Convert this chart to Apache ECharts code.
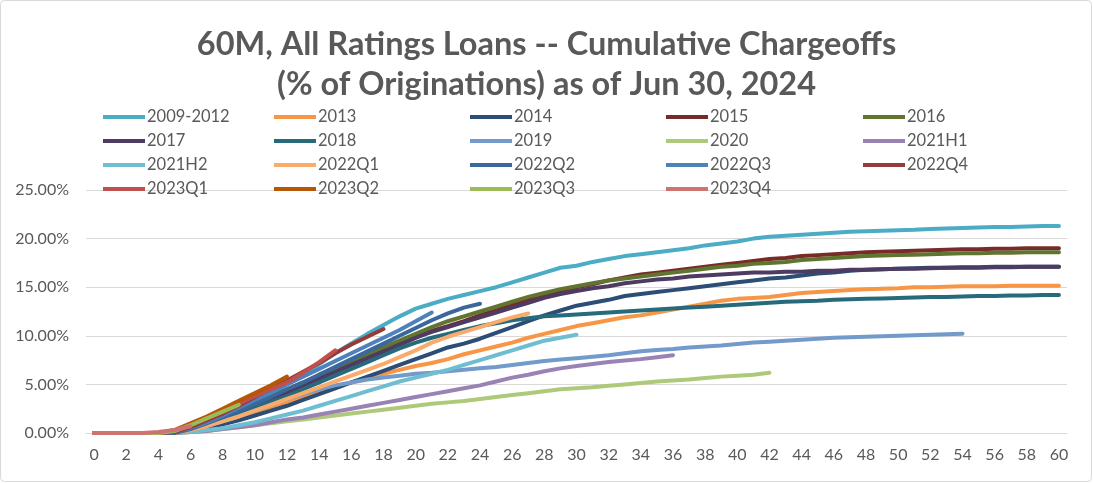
<!DOCTYPE html>
<html>
<head>
<meta charset="utf-8">
<script src="https://cdn.jsdelivr.net/npm/echarts@6/dist/echarts.min.js"></script>
<style>
html,body{margin:0;padding:0;background:#fff;}
#chart{width:1093px;height:483px;}
</style>
</head>
<body>
<div id="chart"></div>
<script>
// ---- data ----
const months = [0,1,2,3,4,5,6,7,8,9,10,11,12,13,14,15,16,17,18,19,20,21,22,23,24,25,26,27,28,29,30,31,32,33,34,35,36,37,38,39,40,41,42,43,44,45,46,47,48,49,50,51,52,53,54,55,56,57,58,59,60];
const yTicks = [0, 5, 10, 15, 20, 25];
const titleText = "60M, All Ratings Loans -- Cumulative Chargeoffs\n(% of Originations) as of Jun 30, 2024";

const seriesNames = ["2009-2012","2013","2014","2015","2016","2017","2018","2019","2020","2021H1","2021H2","2022Q1","2022Q2","2022Q3","2022Q4","2023Q1","2023Q2","2023Q3","2023Q4"];
const seriesColors = ["#4BACC6","#F79646","#2C4D75","#772C2A","#5F7530","#4D3B62","#276A7C","#729ACA","#AFC97A","#9983B5","#6FBDD1","#F9AB6B","#3A679C","#4F81BD","#953B39","#C0504D","#B65708","#9BBB59","#CD7371"];

const v2009_2012 = [0,0,0,0,0, 0.2,0.6,1.1,1.7,2.4, 3.1,4.0,5.0,6.0,7.1, 8.2,9.2,10.2,11.1,12.0, 12.8,13.3,13.8,14.2,14.6, 15.0,15.5,16.0,16.5,17.0, 17.2,17.6,17.9,18.2,18.4, 18.6,18.8,19.0,19.3,19.5, 19.7,20.0,20.2,20.3,20.4, 20.5,20.6,20.7,20.75,20.8, 20.85,20.9,21.0,21.05,21.1, 21.15,21.2,21.2,21.25,21.3, 21.3];
const v2013 = [0,0,0,0,0, 0,0.3,0.7,1.2,1.7, 2.2,2.7,3.2,3.7,4.2, 4.7,5.2,5.7,6.1,6.5, 6.9,7.2,7.6,8.1,8.5, 8.9,9.3,9.8,10.2,10.6, 11.0,11.3,11.6,11.9,12.1, 12.4,12.7,13.0,13.3,13.6, 13.8,13.9,14.0,14.2,14.4, 14.5,14.6,14.7,14.8,14.85, 14.9,15.0,15.0,15.05,15.1, 15.1,15.1,15.15,15.15,15.15, 15.15];
const v2014 = [0,0,0,0,0, 0,0.2,0.5,0.9,1.3, 1.8,2.3,2.8,3.4,4.0, 4.6,5.2,5.8,6.4,7.0, 7.6,8.2,8.8,9.2,9.7, 10.3,10.9,11.5,12.1,12.6, 13.1,13.4,13.7,14.1,14.3, 14.5,14.7,14.9,15.1,15.3, 15.5,15.7,15.9,16.0,16.2, 16.4,16.5,16.7,16.8,16.85, 16.9,16.95,17.0,17.0,17.05, 17.05,17.1,17.1,17.1,17.1, 17.1];
const v2015 = [0,0,0,0,0, 0.1,0.4,0.9,1.5,2.1, 2.8,3.5,4.2,4.9,5.6, 6.3,7.0,7.7,8.4,9.1, 9.8,10.5,11.0,11.5,12.1, 12.6,13.2,13.7,14.2,14.6, 15.0,15.3,15.7,16.0,16.3, 16.5,16.7,16.9,17.1,17.3, 17.5,17.7,17.9,18.0,18.2, 18.3,18.4,18.5,18.6,18.65, 18.7,18.75,18.8,18.85,18.9, 18.9,18.95,18.95,19.0,19.0, 19.0];
const v2016 = [0,0,0,0,0, 0.1,0.5,1.0,1.6,2.3, 3.0,3.7,4.5,5.2,6.0, 6.7,7.4,8.1,8.8,9.5, 10.2,10.9,11.5,12.0,12.5, 13.0,13.5,14.0,14.4,14.8, 15.1,15.4,15.7,15.9,16.1, 16.3,16.5,16.7,16.9,17.1, 17.2,17.4,17.5,17.6,17.8, 17.9,18.0,18.1,18.2,18.25, 18.3,18.35,18.4,18.45,18.5, 18.5,18.55,18.55,18.6,18.6, 18.6];
const v2017 = [0,0,0,0,0, 0.1,0.4,0.9,1.5,2.1, 2.8,3.5,4.2,4.9,5.6, 6.3,7.0,7.7,8.4,9.1, 9.8,10.4,10.9,11.4,11.9, 12.4,12.9,13.4,13.9,14.3, 14.6,14.9,15.1,15.4,15.6, 15.8,15.9,16.1,16.2,16.3, 16.4,16.5,16.5,16.6,16.6, 16.7,16.7,16.8,16.8,16.85, 16.9,16.9,16.95,17.0,17.0, 17.0,17.05,17.05,17.1,17.1, 17.1];
const v2018 = [0,0,0,0,0, 0.1,0.4,0.9,1.4,2.0, 2.6,3.2,3.8,4.5,5.2, 5.9,6.6,7.3,8.0,8.7, 9.3,9.8,10.2,10.6,11.0, 11.3,11.6,11.8,12.0,12.1, 12.2,12.3,12.4,12.5,12.6, 12.7,12.8,12.9,13.0,13.1, 13.2,13.3,13.4,13.5,13.55, 13.6,13.7,13.75,13.8,13.85, 13.9,13.95,14.0,14.0,14.05, 14.1,14.1,14.15,14.15,14.2, 14.2];
const v2019 = [0,0,0,0,0, 0,0.3,0.7,1.2,1.7, 2.3,2.9,3.5,4.0,4.5, 4.9,5.2,5.5,5.7,5.9, 6.1,6.2,6.35,6.5,6.65, 6.8,7.0,7.2,7.4,7.55, 7.7,7.85,8.0,8.2,8.4, 8.55,8.65,8.8,8.9,9.0, 9.15,9.3,9.4,9.5,9.6, 9.7,9.8,9.85,9.9,9.95, 10.0,10.05,10.1,10.15,10.2];
const v2020 = [0,0,0,0,0, 0,0.1,0.2,0.4,0.6, 0.8,1.0,1.2,1.4,1.6, 1.8,2.0,2.2,2.4,2.6, 2.8,3.0,3.15,3.3,3.5, 3.7,3.9,4.1,4.3,4.5, 4.6,4.7,4.85,5.0,5.15, 5.3,5.4,5.5,5.65,5.8, 5.9,6.0,6.2];
const v2021H1 = [0,0,0,0,0, 0,0.1,0.2,0.4,0.6, 0.8,1.1,1.4,1.6,1.9, 2.2,2.5,2.8,3.1,3.4, 3.7,4.0,4.3,4.6,4.9, 5.3,5.7,6.0,6.35,6.65, 6.9,7.1,7.3,7.45,7.6, 7.8,8.0];
const v2021H2 = [0,0,0,0,0, 0,0.1,0.3,0.5,0.8, 1.1,1.5,1.9,2.3,2.8, 3.3,3.8,4.3,4.8,5.3, 5.7,6.1,6.5,7.0,7.5, 8.0,8.5,9.0,9.5,9.8, 10.1];
const v2022Q1 = [0,0,0,0,0, 0,0.3,0.7,1.2,1.7, 2.3,2.9,3.5,4.1,4.7, 5.3,5.9,6.5,7.1,7.8, 8.5,9.3,9.9,10.4,10.9, 11.4,11.9,12.3];
const v2022Q2 = [0,0,0,0,0, 0,0.4,1.0,1.6,2.3, 3.0,3.7,4.5,5.2,6.0, 6.8,7.6,8.4,9.2,10.0, 10.8,11.6,12.3,12.9,13.3];
const v2022Q3 = [0,0,0,0,0, 0.1,0.5,1.1,1.8,2.6, 3.4,4.2,5.0,5.8,6.6, 7.4,8.2,9.0,9.8,10.6, 11.5,12.4];
const v2022Q4 = [0,0,0,0,0, 0.1,0.6,1.3,2.0,2.8, 3.7,4.6,5.4,6.3,7.2, 8.2,9.1,9.9,10.7];
const v2023Q1 = [0,0,0,0,0, 0.2,0.8,1.5,2.2,3.0, 3.8,4.5,5.2,6.2,7.3, 8.5];
const v2023Q2 = [0,0,0,0,0, 0.3,1.0,1.7,2.5,3.3, 4.1,4.9,5.8];
const v2023Q3 = [0,0,0,0,0, 0.2,0.8,1.5,2.2,2.9];
const v2023Q4 = [0,0,0,0,0.1, 0.3,0.7];

const seriesValues = [v2009_2012,v2013,v2014,v2015,v2016,v2017,v2018,v2019,v2020,v2021H1,v2021H2,v2022Q1,v2022Q2,v2022Q3,v2022Q4,v2023Q1,v2023Q2,v2023Q3,v2023Q4];

// ---- chart ----
const FONT = 'Lato, "Liberation Sans", sans-serif';
const TXT = '#595959';
const chart = echarts.init(document.getElementById('chart'), null, {renderer: 'canvas'});

const series = seriesNames.map((name, i) => ({
  name: name,
  type: 'line',
  data: seriesValues[i],
  showSymbol: false,
  symbol: 'none',
  smooth: false,
  animation: false,
  itemStyle: {color: seriesColors[i]},
  lineStyle: {color: seriesColors[i], width: 4, cap: 'round', join: 'round'}
}));

// legend: 5 columns, 4 rows
const colX = [98, 269, 465, 661, 858];
const legends = [];
for (let c = 0; c < 5; c++) {
  const names = seriesNames.filter((n, i) => i % 5 === c);
  legends.push({
    orient: 'vertical',
    left: colX[c],
    top: 103,
    itemWidth: 42,
    itemHeight: 4,
    itemGap: 6,
    icon: 'rect',
    selectedMode: false,
    textStyle: {fontFamily: FONT, fontSize: 16.5, color: TXT, padding: [0,0,0,-3], lineHeight: 18},
    data: names.map(n => ({name: n, icon: 'rect'}))
  });
}

chart.setOption({
  animation: false,
  backgroundColor: '#fff',
  title: {
    text: titleText,
    left: 'center',
    top: 20,
    textStyle: {fontFamily: FONT, fontWeight: 'bold', fontSize: 32.5, color: TXT, lineHeight: 40}
  },
  legend: legends,
  grid: {left: 86, right: 26, top: 190, bottom: 50, containLabel: false},
  xAxis: {
    type: 'category',
    data: months,
    boundaryGap: true,
    axisTick: {show: false},
    axisLine: {show: true, lineStyle: {color: '#D9D9D9', width: 1}},
    axisLabel: {interval: 1, margin: 14, fontFamily: FONT, fontSize: 16, color: TXT},
    splitLine: {show: false}
  },
  yAxis: {
    type: 'value',
    min: yTicks[0],
    max: yTicks[yTicks.length - 1],
    interval: 5,
    axisLine: {show: false},
    axisTick: {show: false},
    axisLabel: {margin: 17, fontFamily: FONT, fontSize: 16, color: TXT, formatter: v => v.toFixed(2) + '%'},
    splitLine: {show: true, lineStyle: {color: '#D9D9D9', width: 1}}
  },
  graphic: [{
    type: 'rect',
    shape: {x: 0.5, y: 0.5, width: 1091, height: 481, r: 4},
    style: {fill: 'none', stroke: '#D9D9D9', lineWidth: 1},
    silent: true,
    z: -10
  }],
  series: series
});
</script>
</body>
</html>
